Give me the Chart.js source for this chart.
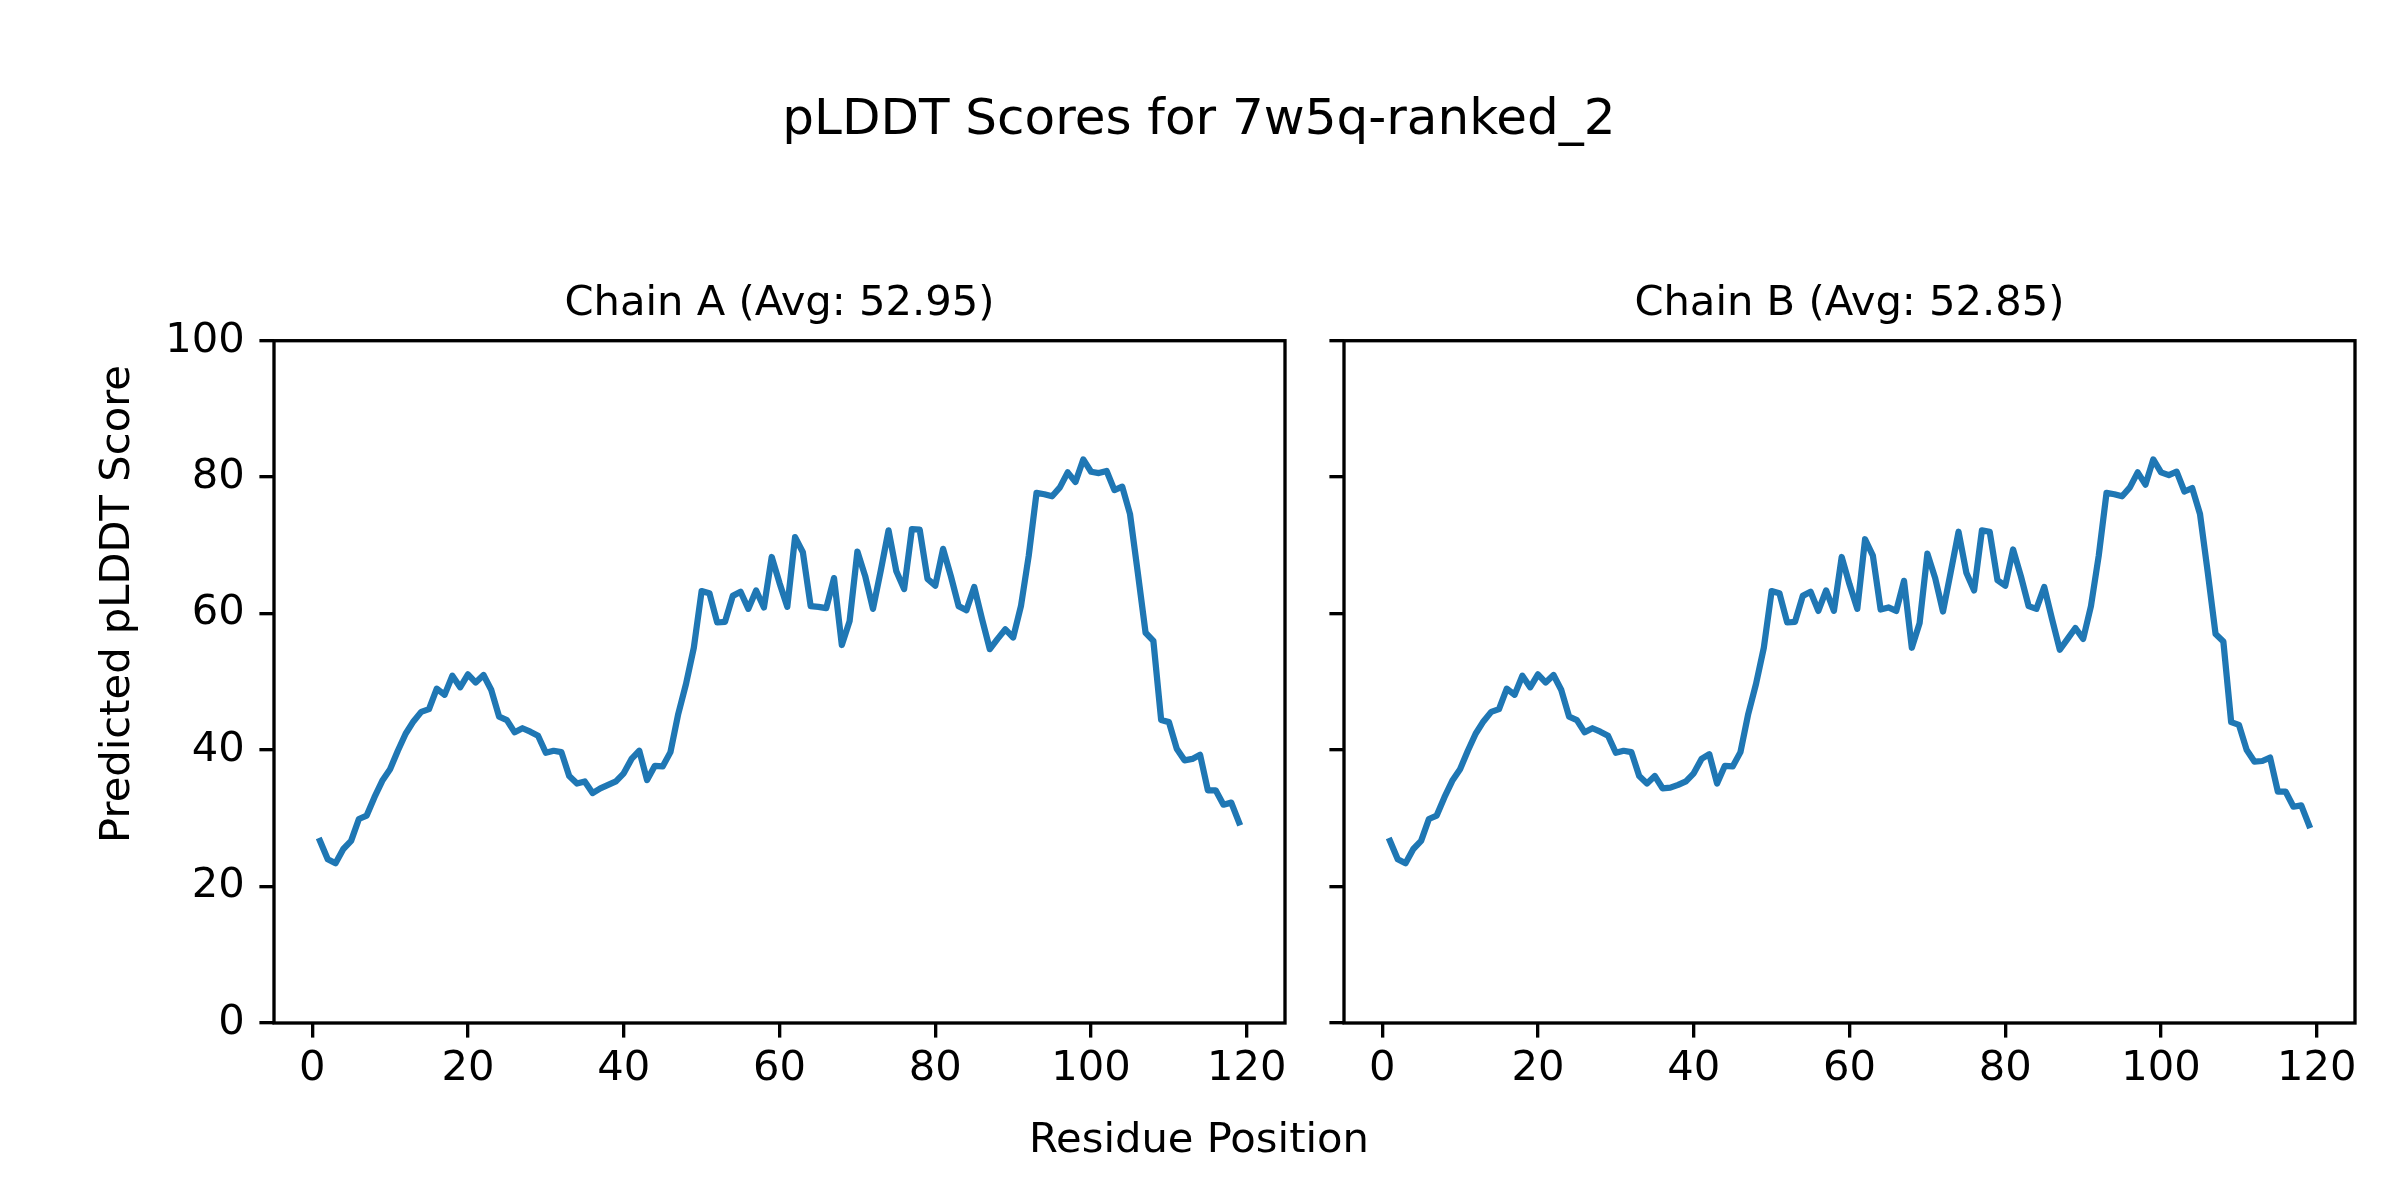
<!DOCTYPE html>
<html>
<head>
<meta charset="utf-8">
<script src="https://cdn.jsdelivr.net/npm/chart.js@4.4.1/dist/chart.umd.min.js"></script>
<style>
  html, body { margin: 0; padding: 0; background: #ffffff; }
  #fig { position: relative; width: 2400px; height: 1200px; background: #ffffff; overflow: hidden; }
  .panel { position: absolute; top: 0; height: 1200px; }
  #overlay { position: absolute; left: 0; top: 0; width: 2400px; height: 1200px; pointer-events: none; }
  #overlay text { font-family: 'DejaVu Sans', sans-serif; fill: #000; }
</style>
</head>
<body>
<div id="fig">
  <div class="panel" style="left:0px;width:1310px;"><canvas id="chainA" width="1310" height="1200"></canvas></div>
  <div class="panel" style="left:1310px;width:1090px;"><canvas id="chainB" width="1090" height="1200"></canvas></div>
  <svg id="overlay" width="2400" height="1200" xmlns="http://www.w3.org/2000/svg">
    <text id="supTitle" x="1199" y="134" text-anchor="middle" font-size="50"></text>
    <text id="supXLabel" x="1199" y="1152" text-anchor="middle" font-size="41.67"></text>
    <text id="supYLabel" transform="translate(129,604) rotate(-90)" text-anchor="middle" font-size="41.67"></text>
  </svg>
</div>
<script>
// ---- Data ----
const figureTitle = 'pLDDT Scores for 7w5q-ranked_2';
const xAxisLabel = 'Residue Position';
const yAxisLabel = 'Predicted pLDDT Score';
const chainATitle = 'Chain A (Avg: 52.95)';
const chainBTitle = 'Chain B (Avg: 52.85)';

const chainAScores = [
  26.7, 24.0, 23.4, 25.5, 26.7, 29.9, 30.4, 33.1, 35.5, 37.2,
  39.9, 42.4, 44.2, 45.6, 46.0, 49.0, 48.1, 50.9, 49.2, 51.1,
  49.9, 51.0, 48.8, 44.9, 44.4, 42.6, 43.2, 42.7, 42.1, 39.6,
  39.9, 39.7, 36.2, 35.1, 35.4, 33.7, 34.4, 34.9, 35.4, 36.6,
  38.7, 39.9, 35.6, 37.7, 37.6, 39.7, 45.3, 49.7, 55.0, 63.3,
  63.0, 58.7, 58.8, 62.6, 63.2, 60.7, 63.4, 60.9, 68.3, 64.5,
  61.0, 71.2, 69.0, 61.1, 61.0, 60.8, 65.2, 55.4, 58.9, 69.1,
  65.5, 60.7, 66.3, 72.2, 66.2, 63.6, 72.4, 72.3, 65.1, 64.1,
  69.5, 65.5, 61.1, 60.5, 63.9, 59.2, 54.8, 56.3, 57.7, 56.5,
  61.1, 68.5, 77.7, 77.5, 77.2, 78.5, 80.7, 79.3, 82.6, 80.8,
  80.6, 80.9, 78.1, 78.6, 74.6, 66.0, 57.2, 56.0, 44.4, 44.1,
  40.2, 38.5, 38.7, 39.3, 34.1, 34.1, 32.0, 32.3, 29.4
];

const chainBScores = [
  26.7, 24.0, 23.4, 25.5, 26.7, 29.9, 30.4, 33.1, 35.5, 37.2,
  39.9, 42.4, 44.2, 45.6, 46.0, 49.0, 48.1, 50.9, 49.2, 51.1,
  49.9, 51.0, 48.8, 44.9, 44.4, 42.6, 43.2, 42.7, 42.1, 39.6,
  39.9, 39.7, 36.2, 35.1, 36.2, 34.4, 34.5, 34.9, 35.4, 36.6,
  38.7, 39.4, 35.1, 37.7, 37.6, 39.7, 45.3, 49.7, 55.0, 63.3,
  63.0, 58.7, 58.8, 62.6, 63.2, 60.4, 63.4, 60.4, 68.3, 64.3,
  60.7, 70.9, 68.5, 60.6, 60.9, 60.4, 64.8, 55.0, 58.6, 68.8,
  65.2, 60.3, 66.1, 72.0, 66.0, 63.4, 72.2, 72.0, 64.9, 64.1,
  69.4, 65.5, 61.1, 60.7, 63.9, 59.2, 54.7, 56.3, 57.9, 56.3,
  61.1, 68.5, 77.7, 77.5, 77.2, 78.5, 80.7, 78.9, 82.6, 80.7,
  80.3, 80.8, 77.9, 78.4, 74.6, 66.0, 57.0, 55.9, 44.1, 43.7,
  40.0, 38.3, 38.4, 38.9, 33.9, 33.9, 31.7, 31.9, 29.0
];

// residue numbers start at 1
const residuesA = chainAScores.map((_, i) => i + 1);
const residuesB = chainBScores.map((_, i) => i + 1);

const xTickValues = [0, 20, 40, 60, 80, 100, 120];
const yTickValues = [0, 20, 40, 60, 80, 100];

document.getElementById('supTitle').textContent = figureTitle;
document.getElementById('supXLabel').textContent = xAxisLabel;
document.getElementById('supYLabel').textContent = yAxisLabel;

// ---- Styling ----
const FONT = 'DejaVu Sans';
const FS = 41.67;
const LINE_COLOR = '#1f77b4';
const SPINE_W = 3.33;
const TICK_LEN = 14.6;

const framePlugin = {
  id: 'frame',
  afterDatasetsDraw(chart) {
    const { ctx, chartArea: a } = chart;
    ctx.save();
    ctx.strokeStyle = '#000';
    ctx.lineWidth = SPINE_W;
    ctx.lineJoin = 'miter';
    ctx.strokeRect(a.left, a.top, a.right - a.left, a.bottom - a.top);
    ctx.restore();
  }
};

function makeChart(canvasId, residues, scores, title, opts) {
  const span = residues[residues.length - 1] - residues[0];
  const xMin = residues[0] - 0.05 * span;
  const xMax = residues[residues.length - 1] + 0.05 * span;
  return new Chart(document.getElementById(canvasId), {
    type: 'line',
    data: {
      datasets: [{
        data: residues.map((r, i) => ({ x: r, y: scores[i] })),
        borderColor: LINE_COLOR,
        backgroundColor: LINE_COLOR,
        borderWidth: 6.25,
        pointRadius: 0,
        pointHoverRadius: 0,
        tension: 0,
        fill: false,
        borderJoinStyle: 'round',
        borderCapStyle: 'square'
      }]
    },
    options: {
      responsive: false,
      devicePixelRatio: 1,
      animation: false,
      events: [],
      layout: { padding: { top: 279.3, right: opts.padRight, bottom: 0, left: 0 } },
      plugins: {
        legend: { display: false },
        tooltip: { enabled: false },
        title: {
          display: true,
          fullSize: false,
          text: title,
          color: '#000',
          font: { family: FONT, size: FS, weight: 'normal', lineHeight: 1.2 },
          padding: { top: 0, bottom: 11.4 }
        }
      },
      scales: {
        x: {
          type: 'linear',
          min: xMin,
          max: xMax,
          afterBuildTicks: s => { s.ticks = xTickValues.map(v => ({ value: v })); },
          afterFit: s => { s.height = 177; },
          border: { display: false },
          grid: {
            display: true, drawOnChartArea: false, drawTicks: true,
            tickLength: TICK_LEN, color: '#000', lineWidth: SPINE_W
          },
          ticks: {
            color: '#000', font: { family: FONT, size: FS },
            padding: 7, maxRotation: 0, autoSkip: false,
            callback: v => String(v)
          }
        },
        y: {
          type: 'linear',
          min: 0,
          max: 100,
          afterBuildTicks: s => { s.ticks = yTickValues.map(v => ({ value: v })); },
          afterFit: s => { s.width = opts.yWidth; },
          border: { display: false },
          grid: {
            display: true, drawOnChartArea: false, drawTicks: true,
            tickLength: TICK_LEN, color: '#000', lineWidth: SPINE_W
          },
          ticks: {
            display: opts.showYLabels,
            color: '#000', font: { family: FONT, size: FS },
            padding: 14.6,
            callback: v => String(v)
          }
        }
      }
    },
    plugins: [framePlugin]
  });
}

makeChart('chainA', residuesA, chainAScores, chainATitle,
  { padRight: 25, yWidth: 274, showYLabels: true });
makeChart('chainB', residuesB, chainBScores, chainBTitle,
  { padRight: 45, yWidth: 34, showYLabels: false });
</script>
</body>
</html>
